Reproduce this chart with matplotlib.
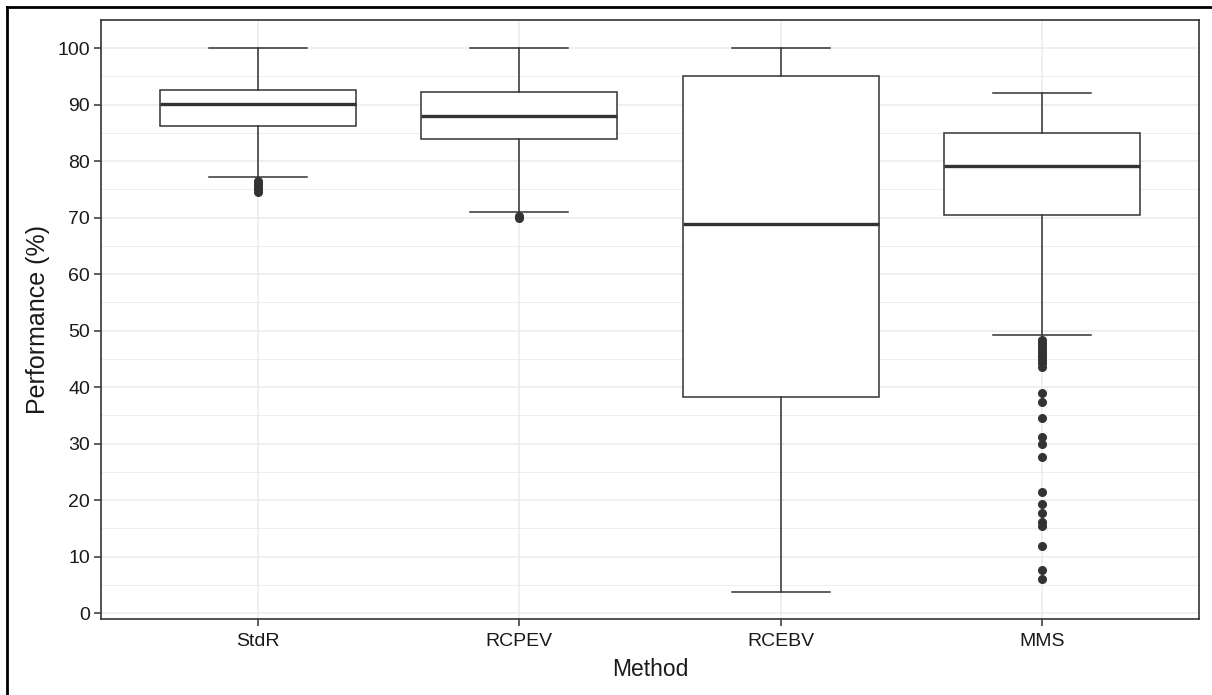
import matplotlib
matplotlib.use("Agg")
import matplotlib.pyplot as plt
from matplotlib.lines import Line2D

plt.rcParams['font.family'] = ['Liberation Sans', 'DejaVu Sans']

methods = ["StdR", "RCPEV", "RCEBV", "MMS"]
q1 = [86.2, 83.9, 38.2, 70.4]
med = [90.1, 88.0, 68.8, 79.1]
q3 = [92.6, 92.2, 95.0, 85.0]
whislo = [77.2, 71.0, 3.7, 49.2]
whishi = [100.0, 100.0, 100.0, 92.0]
outliers = [
    [74.5, 75.0, 75.5, 76.0, 76.5],
    [70.0, 70.3],
    [],
    [48.3, 47.8, 47.3, 46.8, 46.3, 45.8, 45.3, 44.8, 44.3, 43.6,
     38.9, 37.3, 34.5, 31.2, 29.9, 27.6, 21.4, 19.3, 17.7, 16.2, 15.4,
     11.9, 7.6, 6.0],
]
yticks = [0, 10, 20, 30, 40, 50, 60, 70, 80, 90, 100]

W, H = 1212, 695
fig = plt.figure(figsize=(W / 100, H / 100), dpi=100)
ax = fig.add_axes([101 / W, 1 - 619 / H, (1199 - 101) / W, (619 - 20) / H])

stats = []
for i, m in enumerate(methods):
    stats.append(dict(label=m, q1=q1[i], med=med[i], q3=q3[i],
                      whislo=whislo[i], whishi=whishi[i], fliers=outliers[i]))

dark = "#333333"
ax.bxp(stats, positions=[1, 2, 3, 4], widths=0.75, patch_artist=True,
       showcaps=True,
       boxprops=dict(facecolor="white", edgecolor=dark, linewidth=1.1),
       medianprops=dict(color=dark, linewidth=2.4),
       whiskerprops=dict(color=dark, linewidth=1.1),
       capprops=dict(color=dark, linewidth=1.1),
       flierprops=dict(marker='o', markerfacecolor=dark, markeredgecolor=dark,
                       markersize=5.5, linestyle='none'),
       zorder=3)

ax.set_xlim(0.4, 4.6)
ax.set_ylim(-1.06, 104.96)
ax.set_yticks(yticks)
ax.set_yticks([5, 15, 25, 35, 45, 55, 65, 75, 85, 95, 105], minor=True)
ax.set_xticks([1, 2, 3, 4])
ax.set_xticklabels(methods)
ax.grid(True, which='major', color='#ebebeb', linewidth=1.1, zorder=0)
ax.grid(True, which='minor', axis='y', color='#ebebeb', linewidth=0.6, zorder=0)
ax.set_axisbelow(True)
for s in ax.spines.values():
    s.set_color(dark)
    s.set_linewidth(1.2)
ax.tick_params(axis='both', which='major', colors=dark, length=5, width=1.1,
               labelsize=14, labelcolor='#1a1a1a', pad=3)
ax.tick_params(axis='x', which='major', pad=5)
ax.tick_params(axis='y', which='minor', length=0)
ax.set_ylabel("Performance (%)", fontsize=18, color='#1a1a1a', labelpad=5)
ax.set_xlabel("Method", fontsize=16.5, color='#1a1a1a', labelpad=6)

# outer screenshot border (left and top)
fig.add_artist(Line2D([7 / W, 7 / W], [0, 1 - 7 / H], transform=fig.transFigure,
                      color='black', linewidth=2))
fig.add_artist(Line2D([7 / W, 1], [1 - 7 / H, 1 - 7 / H], transform=fig.transFigure,
                      color='black', linewidth=2))

fig.savefig("out.png", dpi=100)
